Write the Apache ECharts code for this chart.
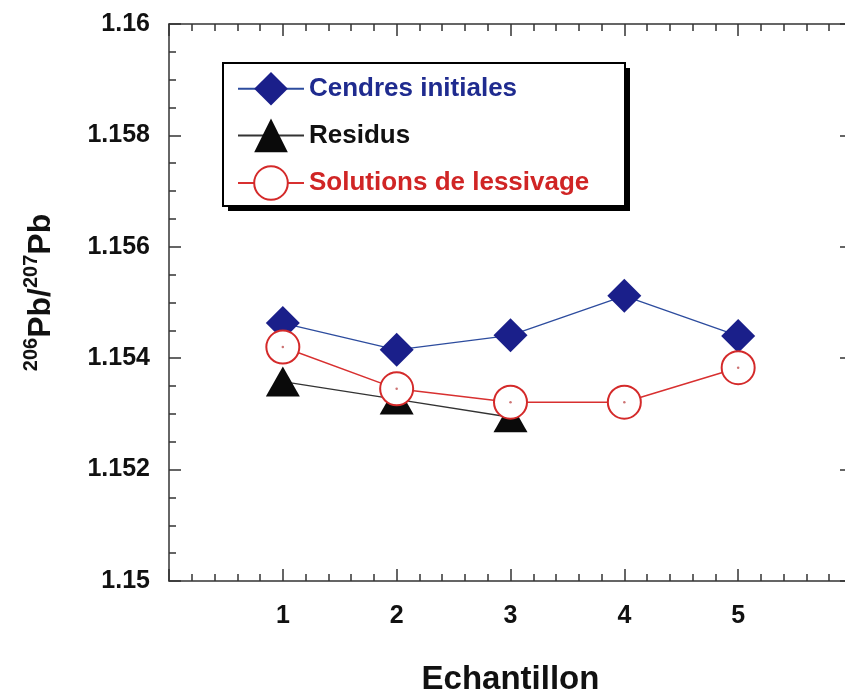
<!DOCTYPE html>
<html>
<head>
<meta charset="utf-8">
<script src="https://cdn.jsdelivr.net/npm/echarts@6/dist/echarts.min.js"></script>
<style>html,body{margin:0;padding:0;background:#fff;overflow:hidden;width:845px;height:691px;}#c{width:860px;height:691px;}</style>
</head>
<body>
<div id="c"></div>
<script>
var samples = [1, 2, 3, 4, 5];
var xTickLabels = ['1', '2', '3', '4', '5'];
var yTickValues = [1.15, 1.152, 1.154, 1.156, 1.158, 1.16];
var seriesNames = ['Cendres initiales', 'Residus', 'Solutions de lessivage'];
var cendres = [1.15463, 1.15415, 1.15441, 1.15512, 1.15440];
var residus = [1.15358, 1.15326, 1.15294];
var solutions = [1.15420, 1.15345, 1.15321, 1.15321, 1.15383];

var FONT = 'Liberation Sans, Arial, sans-serif';
function pairs(vals) { return vals.map(function (v, i) { return [samples[i], v]; }); }

var chart = echarts.init(document.getElementById('c'), null, { renderer: 'canvas' });
var lineSt = { color: '#333', width: 1.5 };
var axisCommonX = {
  type: 'value', min: 0, max: 6, interval: 1,
  axisLine: { show: true, onZero: false, lineStyle: lineSt },
  axisTick: { show: true, inside: true, length: 12, lineStyle: lineSt },
  minorTick: { show: true, splitNumber: 5, length: 7, lineStyle: lineSt },
  splitLine: { show: false }, minorSplitLine: { show: false }
};
var axisCommonY = {
  type: 'value', min: 1.15, max: 1.16, interval: 0.002,
  axisLine: { show: true, onZero: false, lineStyle: lineSt },
  axisTick: { show: true, inside: true, length: 12, lineStyle: lineSt },
  minorTick: { show: true, splitNumber: 4, length: 7, lineStyle: lineSt },
  splitLine: { show: false }, minorSplitLine: { show: false }
};
var labelStyle = { color: '#111', fontSize: 25, fontWeight: 'bold', fontFamily: FONT };

var option = {
  backgroundColor: '#fff',
  animation: false,
  grid: { left: 169, top: 24, right: 8, bottom: 110, containLabel: false, outerBoundsMode: 'none' },
  xAxis: [
    Object.assign({}, axisCommonX, {
      position: 'bottom',
      axisLabel: Object.assign({ margin: 23, formatter: function (v) {
        var i = samples.indexOf(v); return i >= 0 ? xTickLabels[i] : '';
      } }, labelStyle),
      name: 'Echantillon', nameLocation: 'middle', nameGap: 82,
      nameTextStyle: { color: '#111', fontSize: 33, fontWeight: 'bold', fontFamily: FONT }
    }),
    Object.assign({}, axisCommonX, { position: 'top', axisLabel: { show: false } })
  ],
  yAxis: [
    Object.assign({}, axisCommonY, {
      position: 'left',
      axisLabel: Object.assign({ margin: 19, formatter: function (v) {
        var best = yTickValues.reduce(function (a, b) { return Math.abs(b - v) < Math.abs(a - v) ? b : a; });
        return String(best);
      } }, labelStyle),
      name: '{sup|206}{b|Pb/}{sup|207}{b|Pb}', nameLocation: 'middle', nameGap: 112, nameRotate: 90,
      nameTextStyle: {
        padding: [0, 0, 0, 20],
        rich: {
          b: { fontSize: 32, fontWeight: 'bold', fontFamily: FONT, color: '#111', lineHeight: 36, verticalAlign: 'bottom' },
          sup: { fontSize: 20, fontWeight: 'bold', fontFamily: FONT, color: '#111', lineHeight: 36, verticalAlign: 'top' }
        }
      }
    }),
    Object.assign({}, axisCommonY, { position: 'right', axisLabel: { show: false } })
  ],
  graphic: [
    { type: 'rect', z: 1, shape: { x: 228, y: 68, width: 402, height: 143 }, style: { fill: '#000' } },
    { type: 'rect', z: 1, shape: { x: 223, y: 63, width: 402, height: 143 }, style: { fill: '#fff', stroke: '#000', lineWidth: 2 } }
  ],
  legend: {
    left: 237, top: 72, orient: 'vertical', itemWidth: 66, itemHeight: 42, itemGap: 13, padding: 0,
    selectedMode: false, z: 10,
    textStyle: { fontSize: 26, fontWeight: 'bold', fontFamily: FONT },
    data: [
      { name: seriesNames[0], textStyle: { color: '#1f2b8f' } },
      { name: seriesNames[1], textStyle: { color: '#111' } },
      { name: seriesNames[2], textStyle: { color: '#d02525' } }
    ]
  },
  series: [
    {
      name: seriesNames[0], type: 'line', data: pairs(cendres),
      symbol: 'diamond', symbolSize: 34,
      itemStyle: { color: '#1a1f8a' },
      lineStyle: { color: '#2d4c9e', width: 1.3 }
    },
    {
      name: seriesNames[1], type: 'line', data: pairs(residus),
      symbol: 'triangle', symbolSize: [34, 30],
      itemStyle: { color: '#0a0a0a' },
      lineStyle: { color: '#333', width: 1.3 }
    },
    {
      name: seriesNames[2], type: 'line', data: pairs(solutions),
      symbol: 'circle', symbolSize: 33,
      itemStyle: { color: '#fff', borderColor: '#d42a2a', borderWidth: 2 },
      lineStyle: { color: '#d83030', width: 1.5 }
    },
    {
      name: 'centres', type: 'scatter', data: pairs(solutions), symbolSize: 2.5, silent: true, z: 5,
      itemStyle: { color: '#c05050' }
    }
  ]
};
chart.setOption(option);
</script>
</body>
</html>
